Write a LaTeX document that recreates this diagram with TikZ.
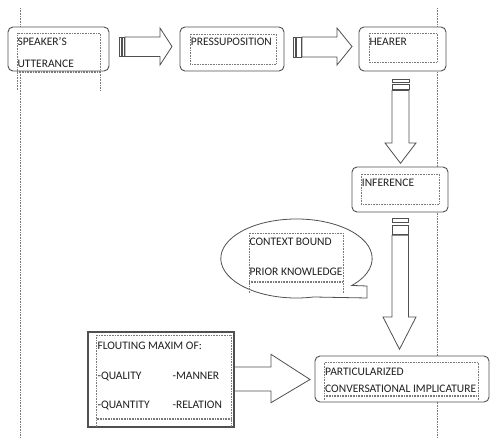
\documentclass[tikz,border=0pt]{standalone}
\usepackage{fontspec}
\setmainfont{Carlito}
\definecolor{linegray}{HTML}{505050}
\definecolor{dotgray}{HTML}{7A7A7A}
\definecolor{txt}{HTML}{202020}
\begin{document}
\begin{tikzpicture}[x=1pt,y=-1pt,
  rbox/.style={draw=linegray, fill=white, rounded corners=5pt, line width=0.9pt, inner sep=0pt},
  sbox/.style={draw=linegray, fill=white, line width=1.2pt, inner sep=0pt},
  blk/.style={draw=linegray, fill=white, line width=0.8pt, line join=miter},
  bar/.style={draw=linegray, fill=white, line width=0.6pt},
  dotframe/.style={draw=dotgray, line width=0.6pt, densely dotted},
  guide/.style={draw=dotgray, line width=0.6pt, densely dotted},
  lbl/.style={anchor=west, inner sep=0pt, text=txt, font=\fontsize{11.5}{13}\selectfont, text height=7.4pt, text depth=0pt}
]
\useasboundingbox (0,0) rectangle (490,438);

% guide lines
\coordinate (gL1) at (20,8);   \coordinate (gL2) at (20,438);
\coordinate (gR1) at (437.7,8); \coordinate (gR2) at (437.7,438);
\draw[guide] (gL1) -- (gL2);
\draw[guide] (gR1) -- (gR2);

% block arrows
\draw[bar] (119,37) rectangle (121.3,56.5);
\draw[bar] (122.2,37) rectangle (124.3,56.5);
\draw[blk] (125,37) -- (160,37) -- (160,28) -- (172,46.5) -- (160,65) -- (160,56.5) -- (125,56.5) -- cycle;

\draw[bar] (293,37) rectangle (295.5,57);
\draw[bar] (296.4,37) rectangle (301.2,57);
\draw[blk] (302,37) -- (337,37) -- (337,28) -- (352,46.5) -- (337,65) -- (337,57) -- (302,57) -- cycle;

\draw[bar] (392,79) rectangle (409,82);
\draw[bar] (392,84) rectangle (409,89.5);
\draw[blk] (392,90.5) -- (392,143) -- (385,143) -- (400.5,163.3) -- (416,143) -- (409,143) -- (409,90.5) -- cycle;

\draw[bar] (392,218.3) rectangle (408.5,222.7);
\draw[bar] (392,225) rectangle (408.5,234.3);
\draw[blk] (392,235.3) -- (392,317) -- (383,317) -- (399.5,349.3) -- (416,317) -- (408.5,317) -- (408.5,235.3) -- cycle;

\draw[blk] (234,367) -- (271,367) -- (271,354.3) -- (310,379.5) -- (271,402.7) -- (271,391) -- (234,391);

% boxes
\node[rbox, minimum width=101pt, minimum height=44pt] (spk) at (58.5,49) {};
\node[rbox, minimum width=104pt, minimum height=44pt] (pre) at (232,49) {};
\node[rbox, minimum width=87pt, minimum height=44pt] (hea) at (402.5,49) {};
\node[rbox, minimum width=96pt, minimum height=45pt] (inf) at (400,189.5) {};
\node[rbox, minimum width=174pt, minimum height=46pt] (pci) at (402,379) {};
\node[sbox, minimum width=146pt, minimum height=95pt] (flo) at (161,379.5) {};

% callout ellipse
\draw[draw=linegray, fill=white, line width=0.8pt]
  (296.5,258.5) ++(77:75.7 and 39.5)
  arc[start angle=77, end angle=403, x radius=75.7, y radius=39.5]
  -- (367,286) -- (367,298) -- cycle;

% inner dotted frames
\draw[dotframe] (17,90) -- (17,33) -- (100,33) -- (100,90);
\draw[dotframe] (17,71.2) -- (100,71.2);
\draw[dotframe] (17,72.4) -- (100,72.4);
\draw[dotframe] (190,34) rectangle (276,64);
\draw[dotframe] (369,33) rectangle (437,62);
\draw[dotframe] (361,174) rectangle (439,204);
\draw[dotframe] (249,293) -- (249,233.3) -- (343,233.3) -- (343,293);
\draw[dotframe] (249,281.5) -- (343,281.5);
\draw[dotframe] (249,282.7) -- (343,282.7);
\draw[dotframe] (96.5,427) -- (96.5,335) -- (231.7,335) -- (231.7,427);
\draw[dotframe] (96.5,418.5) -- (231.7,418.5);
\draw[dotframe] (96.5,419.7) -- (231.7,419.7);
\draw[dotframe] (324,400) -- (324,362.3) -- (478,362.3) -- (478,400);
\draw[dotframe] (324,395.5) -- (478,395.5);
\draw[dotframe] (324,396.7) -- (478,396.7);

% texts
\node[lbl] (t1) at (17.3,42.3) {SPEAKER’S};
\node[lbl] (t2) at (17.3,64.3) {UTTERANCE};
\node[lbl] (t3) at (190.7,42.3) {PRESSUPOSITION};
\node[lbl] (t4) at (369.3,42.3) {HEARER};
\node[lbl] (t5) at (361.7,182.5) {INFERENCE};
\node[lbl] (t6) at (249.3,242.3) {CONTEXT BOUND};
\node[lbl] (t7) at (249.3,272) {PRIOR KNOWLEDGE};
\node[lbl] (t8) at (97.3,346) {FLOUTING MAXIM OF:};
\node[lbl] (t9) at (97.3,375.3) {-QUALITY};
\node[lbl] (t10) at (172.3,375.3) {-MANNER};
\node[lbl] (t11) at (97.3,404.7) {-QUANTITY};
\node[lbl] (t12) at (172.3,404.7) {-RELATION};
\node[lbl] (t13) at (325,371.3) {PARTICULARIZED};
\node[lbl] (t14) at (325,389) {CONVERSATIONAL IMPLICATURE};
\end{tikzpicture}
\end{document}
